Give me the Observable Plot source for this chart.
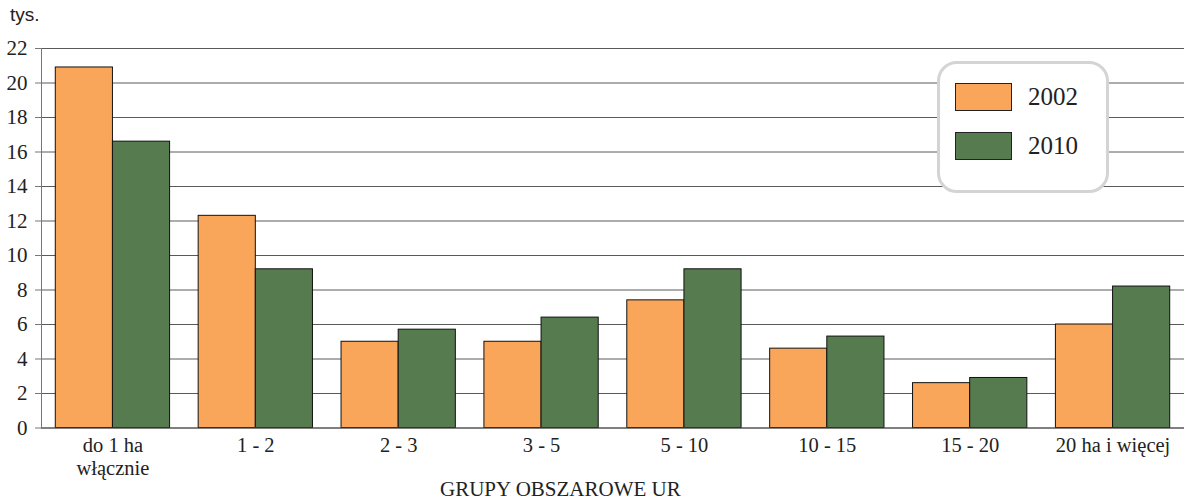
<!DOCTYPE html>
<html>
<head>
<meta charset="utf-8">
<script src="https://cdn.jsdelivr.net/npm/d3@7"></script>
<script src="https://cdn.jsdelivr.net/npm/@observablehq/plot@0.6"></script>
<style>
  html, body { margin: 0; padding: 0; background: #fff; }
  #wrap { position: relative; width: 1184px; height: 501px; overflow: hidden; }
  #wrap svg { position: absolute; left: 0; top: 0; }
  .unit { position: absolute; left: 10px; top: 4px; font: 19px "Liberation Sans", Arial, sans-serif; color: #222; }
  .xlab { position: absolute; left: 440px; top: 477px; font: 21px "Liberation Serif", "Times New Roman", serif; color: #222; }
  .legend { position: absolute; left: 937px; top: 61px; width: 166px; height: 126px; border: 3px solid #d4d4d4; border-radius: 20px; background: #fff; box-sizing: content-box; }
  .legend .item { position: absolute; left: 15px; display: flex; align-items: center; }
  .legend .sw { width: 57px; height: 28px; border: 1px solid #222; box-sizing: border-box; }
  .legend .tx { margin-left: 16px; font: 25px "Liberation Serif", "Times New Roman", serif; color: #222; }
</style>
</head>
<body>
<div id="wrap"></div>
<script>
const groups = ["do 1 ha\nwłącznie", "1 - 2", "2 - 3", "3 - 5", "5 - 10", "10 - 15", "15 - 20", "20 ha i więcej"];
const years = ["2002", "2010"];
const values2002 = [20.9, 12.3, 5.0, 5.0, 7.4, 4.6, 2.6, 6.0];
const values2010 = [16.6, 9.2, 5.7, 6.4, 9.2, 5.3, 2.9, 8.2];
const yTicks = [0, 2, 4, 6, 8, 10, 12, 14, 16, 18, 20, 22];
const colors = ["#F9A55A", "#567B4F"];

const d2002 = groups.map((g, i) => ({group: g, year: years[0], value: values2002[i]}));
const d2010 = groups.map((g, i) => ({group: g, year: years[1], value: values2010[i]}));

const W = 1184, H = 501, mL = 41, mR = 0, mT = 48, mB = 73.5;
const step = (W - mL - mR) / groups.length;
const bw = step * 0.8;
const serif = "Liberation Serif";

const chart = Plot.plot({
  width: W, height: H,
  marginLeft: mL, marginRight: mR, marginTop: mT, marginBottom: mB,
  style: {background: "transparent", fontFamily: serif, fontSize: "18px", color: "#222"},
  x: {domain: groups, paddingInner: 0.2, paddingOuter: 0.1, round: false, label: null},
  y: {domain: [0, 22], ticks: yTicks, label: null},
  color: {domain: years, range: colors},
  marks: [
    Plot.gridY(yTicks, {stroke: "#5a5a5a", strokeOpacity: 1, strokeWidth: 1}),
    Plot.axisY(yTicks, {tickSize: 6, tickPadding: 8, stroke: "#777", fontSize: 21, fontFamily: serif, fill: "#222"}),
    Plot.axisX({tickSize: 0, tickPadding: 8, fontSize: 20.5, fontFamily: serif, fill: "#222", lineHeight: 1.12}),
    Plot.barY(d2002, {x: "group", y: "value", fill: "year", stroke: "#111", strokeWidth: 1, insetRight: bw / 2}),
    Plot.barY(d2010, {x: "group", y: "value", fill: "year", stroke: "#111", strokeWidth: 1, insetLeft: bw / 2}),
    Plot.ruleY([0], {stroke: "#555", strokeWidth: 1.2}),
    Plot.frame({anchor: "left", stroke: "#777"})
  ]
});

const wrap = document.getElementById("wrap");
wrap.appendChild(chart);

const unit = document.createElement("div");
unit.className = "unit"; unit.textContent = "tys.";
wrap.appendChild(unit);

const xlab = document.createElement("div");
xlab.className = "xlab"; xlab.textContent = "GRUPY OBSZAROWE UR";
wrap.appendChild(xlab);

const legend = document.createElement("div");
legend.className = "legend";
years.forEach((y, i) => {
  const item = document.createElement("div");
  item.className = "item";
  item.style.top = (19 + i * 49) + "px";
  const sw = document.createElement("div");
  sw.className = "sw"; sw.style.background = colors[i];
  const tx = document.createElement("span");
  tx.className = "tx"; tx.textContent = y;
  item.appendChild(sw); item.appendChild(tx);
  legend.appendChild(item);
});
wrap.appendChild(legend);
</script>
</body>
</html>
